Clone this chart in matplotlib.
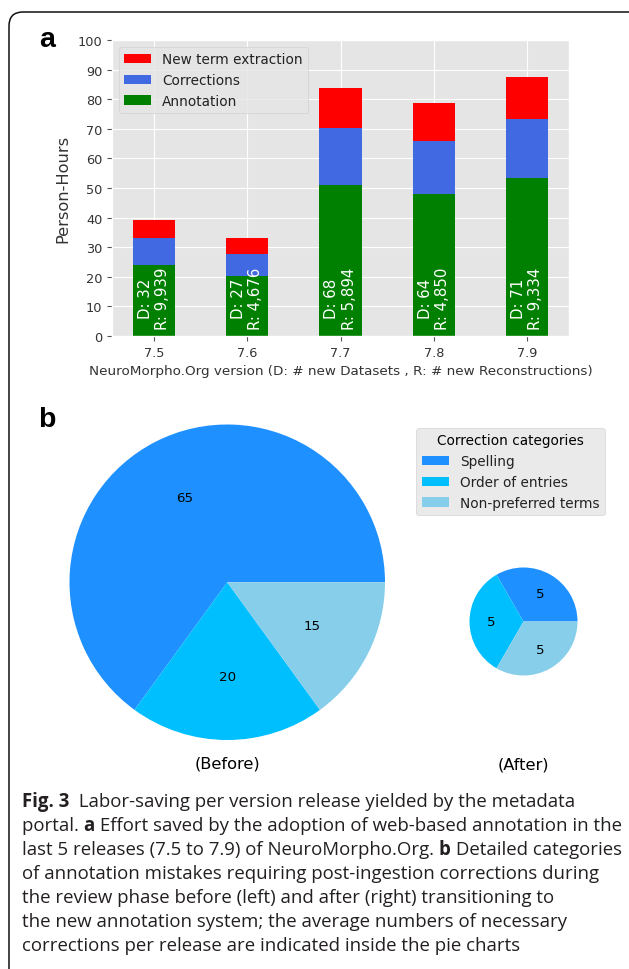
import numpy as np
import matplotlib
matplotlib.use('Agg')
import matplotlib.pyplot as plt
from matplotlib.transforms import IdentityTransform
from matplotlib.patches import FancyBboxPatch
from matplotlib import font_manager

plt.style.use('ggplot')

# ---------------- data ----------------
versions = ['7.5', '7.6', '7.7', '7.8', '7.9']
annotation = [24.0, 20.2, 51.0, 48.0, 53.3]
corrections = [9.0, 7.6, 19.2, 18.0, 19.9]
new_terms = [6.3, 5.3, 13.5, 12.7, 14.2]
datasets = [32, 27, 68, 64, 71]
reconstructions = ['9,939', '4,676', '5,894', '4,850', '9,334']
series_labels = ['Annotation', 'Corrections', 'New term extraction']
series_colors = ['green', 'royalblue', 'red']

categories = ['Spelling', 'Order of entries', 'Non-preferred terms']
before = [65, 20, 15]
after = [5, 5, 5]
pie_colors = ['dodgerblue', 'deepskyblue', 'skyblue']

caption_lines = [
    [("Fig. 3", True), ("  Labor-saving per version release yielded by the metadata", False)],
    [("portal. ", False), ("a", True), (" Effort saved by the adoption of web-based annotation in the", False)],
    [("last 5 releases (7.5 to 7.9) of NeuroMorpho.Org. ", False), ("b", True), (" Detailed categories", False)],
    [("of annotation mistakes requiring post-ingestion corrections during", False)],
    [("the review phase before (left) and after (right) transitioning to", False)],
    [("the new annotation system; the average numbers of necessary", False)],
    [("corrections per release are indicated inside the pie charts", False)],
]

W, H = 629, 970
fig = plt.figure(figsize=(W / 100, H / 100), dpi=100)
fig.patch.set_facecolor('white')
PX = IdentityTransform()
TXT = '#333333'

# ---------------- panel a ----------------
ax = fig.add_axes([112 / W, 1 - 337 / H, 457 / W, 296 / H])
x = np.arange(len(versions))
bottom = np.zeros(len(versions))
handles = []
for vals, lab, col in zip([annotation, corrections, new_terms], series_labels, series_colors):
    b = ax.bar(x, vals, 0.45, bottom=bottom, color=col, label=lab, linewidth=0)
    handles.append(b)
    bottom = bottom + np.array(vals)

for i in range(len(versions)):
    ax.text(x[i], 2.2, f"D: {datasets[i]}\nR: {reconstructions[i]}", rotation=90,
            ha='center', va='bottom', color='white', fontsize=10.8)

ax.set_ylim(0, 100)
ax.set_yticks(np.arange(0, 101, 10))
ax.set_xticks(x)
ax.set_xticklabels(versions)
ax.tick_params(labelcolor=TXT, labelsize=9.3)
ax.set_ylabel('Person-Hours', fontsize=11.7, color=TXT)
ax.yaxis.set_label_coords(-0.09, 0.5)
ax.set_xlabel('NeuroMorpho.Org version (D: # new Datasets , R: # new Reconstructions)',
              fontsize=9.7, color=TXT, labelpad=4)
leg = ax.legend(handles[::-1], series_labels[::-1], loc='upper left', fontsize=9.8)
for t in leg.get_texts():
    t.set_color('#222222')

# ---------------- panel b ----------------
ax1 = fig.add_axes([69.5 / W, 1 - 741 / H, 315.5 / W, 315.5 / H])
w1, _, a1 = ax1.pie(before, colors=pie_colors, startangle=0, autopct='%d',
                    wedgeprops=dict(linewidth=0), textprops=dict(fontsize=9.6, color='black'))
for t, v in zip(a1, before):
    t.set_text(str(v))
ax1.set_xlim(-1, 1)
ax1.set_ylim(-1, 1)

ax2 = fig.add_axes([469.5 / W, 1 - 676.5 / H, 108 / W, 108 / H])
w2, _, a2 = ax2.pie(after, colors=pie_colors, startangle=0, autopct='%d',
                    wedgeprops=dict(linewidth=0), textprops=dict(fontsize=9.6, color='black'))
for t, v in zip(a2, after):
    t.set_text(str(v))
ax2.set_xlim(-1, 1)
ax2.set_ylim(-1, 1)

fig.text(227, H - 764, '(Before)', ha='center', va='center', fontsize=11.7, transform=PX)
fig.text(523, H - 765, '(After)', ha='center', va='center', fontsize=11.7, transform=PX)

legb = fig.legend(w1, categories, title='Correction categories', loc='upper right',
                  bbox_to_anchor=(605 / W, 1 - 429 / H), fontsize=9.8, title_fontsize=9.8,
                  borderaxespad=0)
for t in legb.get_texts():
    t.set_color('#222222')

# ---------------- panel letters ----------------
fig.text(39, H - 47, 'a', fontsize=20.5, fontweight='bold', family=['Liberation Sans', 'DejaVu Sans'],
         ha='left', va='baseline', transform=PX)
fig.text(38, H - 427, 'b', fontsize=20.5, fontweight='bold', family=['Liberation Sans', 'DejaVu Sans'],
         ha='left', va='baseline', transform=PX)

# ---------------- frame ----------------
frame = FancyBboxPatch((9, -40), 700, (H - 13) + 40, boxstyle='round,pad=0,rounding_size=14',
                       transform=PX, fill=False, linewidth=1.1, edgecolor='#111111', clip_on=False)
fig.add_artist(frame)

# ---------------- caption ----------------
avail = {f.name for f in font_manager.fontManager.ttflist}
cap_font = 'Open Sans' if 'Open Sans' in avail else ('Noto Sans' if 'Noto Sans' in avail else 'DejaVu Sans')
renderer = fig.canvas.get_renderer()


def text_width(s, bold, fs):
    t = fig.text(0, 0, s + '|', fontsize=fs, fontweight='bold' if bold else 'normal',
                 family=cap_font, transform=PX)
    t2 = fig.text(0, 0, '|', fontsize=fs, fontweight='bold' if bold else 'normal',
                  family=cap_font, transform=PX)
    w = t.get_window_extent(renderer).width - t2.get_window_extent(renderer).width
    t.remove()
    t2.remove()
    return w


widest = max(sum(text_width(s, b, 10) for s, b in parts) for parts in caption_lines)
cap_fs = 10 * (621 - 22) / widest

for i, parts in enumerate(caption_lines):
    xx = 22
    yy = H - (807 + 24 * i)
    for s, bold in parts:
        fig.text(xx, yy, s, fontsize=cap_fs, fontweight='bold' if bold else 'normal',
                 family=cap_font, color='#231f20', ha='left', va='baseline', transform=PX)
        xx += text_width(s, bold, cap_fs)

fig.savefig('out.png', dpi=100, facecolor='white')
